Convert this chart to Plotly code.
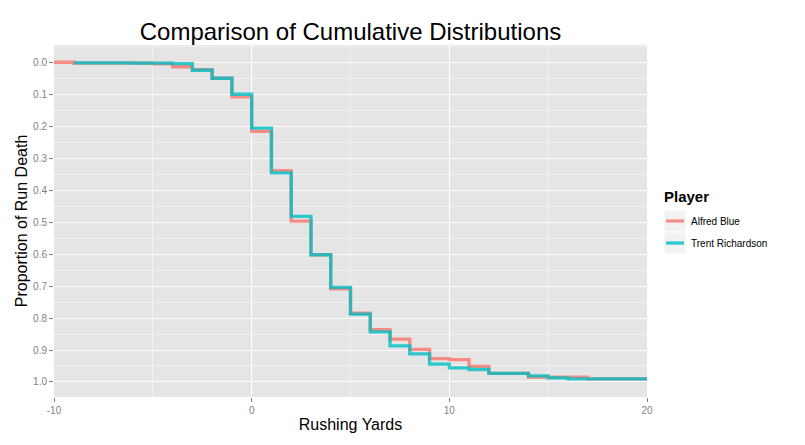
import plotly.graph_objects as go

# Alfred Blue cumulative proportion by rushing yards (step, hv)
blue_yards = [-10, -9, -5, -4, -3, -2, -1, 0, 1, 2, 3, 4, 5, 6, 7, 8, 9, 10, 11, 12, 14, 17, 20]
blue_prop = [0.000, 0.003, 0.005, 0.014, 0.023, 0.050, 0.108, 0.216, 0.339, 0.497, 0.602,
             0.709, 0.785, 0.836, 0.866, 0.898, 0.927, 0.930, 0.951, 0.973, 0.985, 0.990, 0.990]

# Trent Richardson cumulative proportion by rushing yards
trent_yards = [-9, -6, -4, -3, -2, -1, 0, 1, 2, 3, 4, 5, 6, 7, 8, 9, 10, 11, 12, 14, 15, 16, 20]
trent_prop = [0.002, 0.003, 0.004, 0.025, 0.050, 0.100, 0.206, 0.346, 0.482, 0.602, 0.704,
              0.788, 0.843, 0.887, 0.912, 0.944, 0.956, 0.961, 0.973, 0.981, 0.987, 0.990, 0.990]

series_names = ["Alfred Blue", "Trent Richardson"]
series_colors = ["#F8766D", "#00BFC4"]

x_ticks = [-10, 0, 10, 20]
y_ticks = [0.0, 0.1, 0.2, 0.3, 0.4, 0.5, 0.6, 0.7, 0.8, 0.9, 1.0]

FONT = "Liberation Sans, Arial, sans-serif"

fig = go.Figure()
for xs, ys, name, col in [(blue_yards, blue_prop, series_names[0], series_colors[0]),
                          (trent_yards, trent_prop, series_names[1], series_colors[1])]:
    fig.add_trace(go.Scatter(x=xs, y=ys, mode="lines", line_shape="hv", name=name,
                             line=dict(color=col, width=3.3), opacity=0.8,
                             showlegend=False, hoverinfo="skip"))

# Plot area in pixels: left 54, right 647, top 45, bottom 397
L, R, T, B = 54, 647, 45, 397
W, H = 805, 445


def px(x):
    return (x - L) / (R - L)


def py(y):
    return (B - y) / (B - T)


shapes = []
annotations = []
# manual ggplot-style legend
annotations.append(dict(text="<b>Player</b>", xref="paper", yref="paper", x=px(662), y=py(197),
                        xanchor="left", yanchor="middle", showarrow=False,
                        font=dict(family=FONT, size=15, color="black")))
rows = [221, 243]
for i, (name, col) in enumerate(zip(series_names, series_colors)):
    yc = rows[i]
    shapes.append(dict(type="rect", xref="paper", yref="paper", x0=px(664), x1=px(686),
                       y0=py(yc + 11), y1=py(yc - 11), fillcolor="#F2F2F2",
                       line=dict(color="white", width=1), layer="below"))
    shapes.append(dict(type="line", xref="paper", yref="paper", x0=px(666), x1=px(684),
                       y0=py(yc), y1=py(yc), line=dict(color=col, width=3.3), opacity=0.8))
    annotations.append(dict(text=name, xref="paper", yref="paper", x=px(689), y=py(yc),
                            xanchor="left", yanchor="middle", showarrow=False,
                            font=dict(family=FONT, size=10, color="black")))

fig.update_layout(
    width=W, height=H,
    margin=dict(l=L, r=W - R, t=T, b=H - B),
    paper_bgcolor="white", plot_bgcolor="#E5E5E5",
    font=dict(family=FONT),
    title=dict(text="Comparison of Cumulative Distributions", x=0.5, xref="paper",
               y=1 - 32 / H, yref="container", yanchor="middle", xanchor="center",
               font=dict(family=FONT, size=24, color="black")),
    shapes=shapes, annotations=annotations, showlegend=False,
)

fig.update_xaxes(range=[-10, 20], tickvals=x_ticks, ticktext=[str(v) for v in x_ticks],
                 showgrid=True, gridcolor="white", gridwidth=1.3, zeroline=False,
                 ticks="outside", ticklen=4, tickcolor="#7F7F7F", tickwidth=1,
                 tickfont=dict(family=FONT, size=10, color="#7F7F7F"),
                 minor=dict(dtick=5, tick0=-10, showgrid=True, gridcolor="#F2F2F2", gridwidth=0.6),
                 title=dict(text="Rushing Yards", standoff=3,
                            font=dict(family=FONT, size=16, color="black")),
                 showline=False)
fig.update_yaxes(range=[1.047, -0.054], tickvals=y_ticks, ticktext=[f"{v:.1f}" for v in y_ticks],
                 showgrid=True, gridcolor="white", gridwidth=1.3, zeroline=False,
                 ticks="outside", ticklen=4, tickcolor="#7F7F7F", tickwidth=1,
                 tickfont=dict(family=FONT, size=10, color="#7F7F7F"),
                 minor=dict(dtick=0.05, tick0=0.05, showgrid=True, gridcolor="#F2F2F2", gridwidth=0.6),
                 title=dict(text="Proportion of Run Death", standoff=1,
                            font=dict(family=FONT, size=16, color="black")),
                 showline=False)

fig.write_html("out.html", config={"displayModeBar": False},
               post_script="document.body.style.margin='0';")
